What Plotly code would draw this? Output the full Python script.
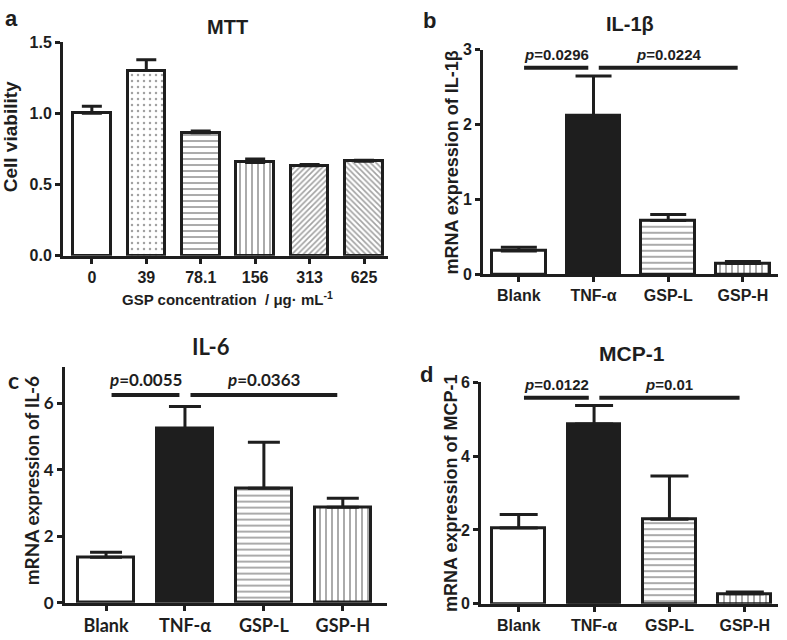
import plotly.graph_objects as go

W, H = 787, 640
INK = "#1e1e1e"
ARIAL = "Liberation Sans, Arial, sans-serif"
CALI = "Lato, Carlito, Calibri, sans-serif"

# ---------------- data ----------------
mtt_categories = ["0", "39", "78.1", "156", "313", "625"]
mtt_values = [1.00, 1.30, 0.864, 0.655, 0.632, 0.663]
mtt_errors = [0.05, 0.075, 0.011, 0.025, 0.008, 0.008]
mtt_ticks = [0.0, 0.5, 1.0, 1.5]

groups = ["Blank", "TNF-α", "GSP-L", "GSP-H"]
il1b_values = [0.31, 2.12, 0.72, 0.145]
il1b_errors = [0.05, 0.53, 0.08, 0.025]
il1b_ticks = [0, 1, 2, 3]

il6_values = [1.37, 5.24, 3.44, 2.87]
il6_errors = [0.15, 0.66, 1.39, 0.27]
il6_ticks = [0, 2, 4, 6]

mcp1_values = [2.05, 4.87, 2.29, 0.27]
mcp1_errors = [0.37, 0.50, 1.17, 0.05]
mcp1_ticks = [0, 2, 4, 6]

sig_pairs = [(0, 1), (1, 3)]
il1b_p = ["0.0296", "0.0224"]
il6_p = ["0.0055", "0.0363"]
mcp1_p = ["0.0122", "0.01"]
il1b_sig_level = 2.76
il6_sig_level = 6.25
mcp1_sig_level = 5.58

# ---------------- styles ----------------
mtt_fill = ["white"] * 6
mtt_shapes = ["", ".", "-", "|", "/", "\\"]
mtt_psize = [6, 6, 6, 6, 4, 4]
mtt_psol = [0.1, 0.14, 0.3, 0.3, 0.4, 0.4]

grp_fill = ["white", INK, "white", "white"]
grp_shapes = ["", "", "-", "|"]
grp_psize = [6, 6, 6, 6]
grp_psol = [0.3, 0.3, 0.3, 0.3]


def px_x(x):
    return x / W


def px_y(y):
    return 1 - y / H


def bar(xa, ya, values, errors, fills, shapes, psize, psol, width, cap):
    n = len(values)
    return go.Bar(
        x=list(range(n)), y=values, xaxis=xa, yaxis=ya, width=width,
        showlegend=False, hoverinfo="skip",
        marker=dict(
            color=fills, line=dict(color=INK, width=3),
            pattern=dict(shape=shapes, fgcolor=INK, size=psize,
                         solidity=psol, fillmode="overlay"),
        ),
        error_y=dict(type="data", array=errors, arrayminus=[0] * n,
                     symmetric=False, color=INK, thickness=3, width=cap),
    )


fig = go.Figure()
fig.add_trace(bar("x", "y", mtt_values, mtt_errors, mtt_fill, mtt_shapes,
                  mtt_psize, mtt_psol, 0.69, 10))
fig.add_trace(bar("x2", "y2", il1b_values, il1b_errors, grp_fill, grp_shapes,
                  grp_psize, grp_psol, 0.72, 18))
fig.add_trace(bar("x3", "y3", il6_values, il6_errors, grp_fill, grp_shapes,
                  grp_psize, grp_psol, 0.71, 16))
fig.add_trace(bar("x4", "y4", mcp1_values, mcp1_errors, grp_fill, grp_shapes,
                  grp_psize, grp_psol, 0.70, 19))


def xaxis(domain, rng, anchor, cats, font, size):
    return dict(domain=domain, range=rng, anchor=anchor, tickmode="array",
                tickvals=list(range(len(cats))), ticktext=cats,
                showline=True, linecolor=INK, linewidth=3, ticks="outside",
                ticklen=5, tickwidth=3, tickcolor=INK, showgrid=False,
                zeroline=False, fixedrange=True,
                tickfont=dict(family=font, size=size, color=INK, weight="bold"))


def yaxis(domain, rng, anchor, ticks, font, size, fmt=None):
    d = dict(domain=domain, range=rng, anchor=anchor, tickmode="array",
             tickvals=ticks, showline=True, linecolor=INK, linewidth=3,
             ticks="outside", ticklen=5, tickwidth=3, tickcolor=INK,
             showgrid=False, zeroline=False, fixedrange=True,
             tickfont=dict(family=font, size=size, color=INK, weight="bold"))
    if fmt:
        d["tickformat"] = fmt
    return d


fig.update_layout(
    width=W, height=H, margin=dict(l=0, r=0, t=0, b=0),
    paper_bgcolor="white", plot_bgcolor="white", bargap=0,
    xaxis=xaxis([px_x(63), px_x(388)], [-0.53, 5.44], "y", mtt_categories, ARIAL, 16),
    yaxis=yaxis([px_y(255), px_y(35)], [0, 1.5], "x", mtt_ticks, ARIAL, 16, ".1f"),
    xaxis2=xaxis([px_x(483), px_x(778)], [-0.48, 3.47], "y2", groups, ARIAL, 16),
    yaxis2=yaxis([px_y(274), px_y(43)], [0, 3], "x2", il1b_ticks, ARIAL, 16),
    xaxis3=xaxis([px_x(65), px_x(387)], [-0.52, 3.56], "y3", groups, CALI, 18),
    yaxis3=yaxis([px_y(612), px_y(369)], [0, 7.1], "x3", il6_ticks, CALI, 17),
    xaxis4=xaxis([px_x(481), px_x(778)], [-0.50, 3.44], "y4", groups, ARIAL, 16),
    yaxis4=yaxis([px_y(613), px_y(385)], [0, 6], "x4", mcp1_ticks, ARIAL, 16),
)

annotations = []
shapes = []


def text(x, y, s, font, size, angle=0):
    annotations.append(dict(
        x=px_x(x), y=px_y(y), xref="paper", yref="paper", text=s,
        showarrow=False, xanchor="center", yanchor="middle", textangle=angle,
        font=dict(family=font, size=size, color=INK, weight="bold")))


# panel letters & titles
text(11, 11, "a", ARIAL, 22)
text(227, 20, "MTT", ARIAL, 20)
text(429, 13, "b", ARIAL, 22)
text(630, 16, "IL-1β", ARIAL, 20)
text(13, 383, "c", CALI, 23)
text(211, 348, "IL-6", CALI, 22)
text(426, 377, "d", ARIAL, 22)
text(632, 355, "MCP-1", ARIAL, 21)

# axis titles
text(10, 133, "Cell viability", ARIAL, 19, angle=-90)
text(227, 299, "GSP concentration  / μg· mL<sup>-1</sup>", ARIAL, 15)
text(452, 159, "mRNA expression of IL-1β", ARIAL, 18, angle=-90)
text(31, 487, "mRNA expression of IL-6", CALI, 19, angle=-90)
text(451, 500, "mRNA expression of MCP-1", ARIAL, 18, angle=-90)

# significance bars
for xa, ya, level, pvals, font, size in [
    ("x2", "y2", il1b_sig_level, il1b_p, ARIAL, 15),
    ("x3", "y3", il6_sig_level, il6_p, CALI, 17),
    ("x4", "y4", mcp1_sig_level, mcp1_p, ARIAL, 15),
]:
    for (i, j), p in zip(sig_pairs, pvals):
        x0, x1 = i + 0.07, j - 0.07
        shapes.append(dict(type="line", xref=xa, yref=ya, x0=x0, x1=x1,
                           y0=level, y1=level,
                           line=dict(color=INK, width=4)))
        annotations.append(dict(
            x=(x0 + x1) / 2, y=level, xref=xa, yref=ya,
            text=f"<i>p</i>={p}", showarrow=False, xanchor="center",
            yanchor="bottom", yshift=3,
            font=dict(family=font, size=size, color=INK, weight="bold")))

fig.update_layout(annotations=annotations, shapes=shapes)
fig.write_html("out.html", config={"displayModeBar": False},
               post_script="document.body.style.margin='0';")
